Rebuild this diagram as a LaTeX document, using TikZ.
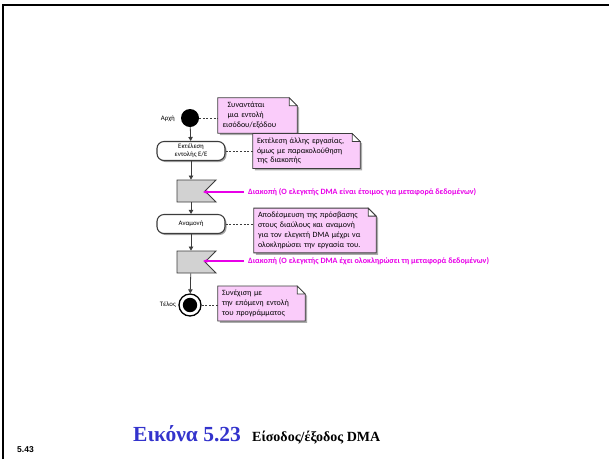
\documentclass[tikz,border=0pt]{standalone}
\usepackage{fontspec}
\setmainfont{Liberation Serif}
\newfontfamily\notefont{Carlito}
\newfontfamily\labelfont{Liberation Sans}
\usetikzlibrary{shapes.symbols,shadows,arrows.meta,backgrounds,calc}

\definecolor{notepink}{RGB}{250,204,250}
\definecolor{flaggray}{RGB}{210,210,210}
\definecolor{edgegray}{RGB}{60,60,60}
\definecolor{alertmag}{RGB}{232,0,232}
\definecolor{capblue}{RGB}{51,51,204}

\tikzset{
  notebox/.style={draw=none, fill=none, align=left, inner sep=4pt,
    font=\notefont\fontsize{8}{9.8}\selectfont},
  actbox/.style={draw=edgegray, line width=1.1pt, fill=white, rounded corners=7pt,
    minimum width=68pt, minimum height=19pt, inner sep=1pt, align=center,
    font=\notefont\fontsize{6.8}{8}\selectfont,
    drop shadow={shadow xshift=1.5pt, shadow yshift=-1.5pt, fill=gray!70, opacity=1}},
  flagbox/.style={signal, signal to=nowhere, signal from=east, draw=edgegray,
    line width=0.9pt, fill=flaggray, minimum width=39pt, minimum height=22pt, inner sep=0pt},
  startdot/.style={circle, fill=black, minimum size=18pt, inner sep=0pt},
  enddot/.style={circle, draw=black, line width=1.3pt, fill=white, minimum size=22pt,
    inner sep=0pt, path picture={\fill[black] (path picture bounding box.center) circle (7.2pt);}},
  flow/.style={draw=edgegray, line width=0.8pt, -{Triangle[length=4pt,width=4.5pt]}},
  noteline/.style={draw=edgegray, line width=0.8pt, dash pattern=on 2pt off 1.6pt},
  alertarrow/.style={draw=alertmag, line width=1.1pt, -{Stealth[length=4.5pt,width=4pt]}},
  alerttext/.style={text=alertmag, anchor=west, inner sep=0pt,
    font=\notefont\bfseries\fontsize{8.1}{9}\selectfont},
  sidelabel/.style={anchor=east, inner sep=0pt, font=\notefont\fontsize{6.8}{8}\selectfont}
}

% note outline with a folded top-right corner and a shadow, drawn behind the text
\newcommand{\foldnote}[1]{%
  \begin{pgfonlayer}{background}
    \fill[gray!65] ([shift={(2pt,-2pt)}]#1.south west) -- ([shift={(2pt,-2pt)}]#1.north west)
      -- ([shift={(-6pt,-2pt)}]#1.north east) -- ([shift={(2pt,-10pt)}]#1.north east)
      -- ([shift={(2pt,-2pt)}]#1.south east) -- cycle;
    \draw[edgegray, line width=0.8pt, fill=notepink] (#1.south west) -- (#1.north west)
      -- ([xshift=-8pt]#1.north east) -- ([yshift=-8pt]#1.north east)
      -- (#1.south east) -- cycle;
    \draw[edgegray, line width=0.8pt, fill=white] ([xshift=-8pt]#1.north east)
      -- ([xshift=-8pt,yshift=-8pt]#1.north east) -- ([yshift=-8pt]#1.north east) -- cycle;
  \end{pgfonlayer}}

\begin{document}
\begin{tikzpicture}[x=1pt,y=-1pt]
  \useasboundingbox (0,0) rectangle (609,459);

  % page frame
  \draw[line width=2.5pt] (3,459) -- (3,5) -- (609,5);

  % activity column
  \node[startdot] (start) at (190,118) {};
  \node[sidelabel] (startlbl) at (175,119) {Αρχή};
  \node[actbox] (exec) at (191,151) {Εκτέλεση\\εντολής Ε/Ε};
  \node[flagbox] (irq1) at (191,191) {};
  \node[actbox] (wait) at (191,224) {Αναμονή};
  \node[flagbox] (irq2) at (191,262) {};
  \node[enddot] (stop) at (190,305) {};
  \node[sidelabel] (stoplbl) at (176,305) {Τέλος};

  \draw[flow] (start) -- (exec);
  \draw[flow] (exec) -- (irq1);
  \draw[flow] (irq1) -- (wait);
  \draw[flow] (wait) -- (irq2);
  \draw[flow] (irq2) -- (stop);

  % notes
  \node[notebox, minimum width=79pt, minimum height=35pt, text width=70pt] (n1) at (257.5,115.5)
    {\hspace*{5pt}Συναντάται\\\hspace*{5pt}μια εντολή\\εισόδου/εξόδου};
  \foldnote{n1}
  \node[notebox, minimum width=107pt, minimum height=28pt, text width=99pt] (n2) at (306.5,151)
    {Εκτέλεση άλλης εργασίας,\\όμως με παρακολούθηση\\της διακοπής};
  \foldnote{n2}
  \node[notebox, minimum width=122pt, minimum height=41pt, text width=114pt] (n3) at (315,230.5)
    {Αποδέσμευση της πρόσβασης\\στους διαύλους και αναμονή\\για τον ελεγκτή DMA μέχρι να\\ολοκληρώσει την εργασία του.};
  \foldnote{n3}
  \node[notebox, minimum width=87pt, minimum height=33pt, text width=79pt] (n4) at (261.5,303.5)
    {Συνέχιση με\\την επόμενη εντολή\\του προγράμματος};
  \foldnote{n4}

  \draw[noteline] (start.east) -- (start.east -| n1.west);
  \draw[noteline] (exec.east) -- (exec.east -| n2.west);
  \draw[noteline] (wait.east) -- (wait.east -| n3.west);
  \draw[noteline] (stop.east) -- (stop.east -| n4.west);

  % interrupt labels
  \coordinate (notch1) at (203,191);
  \coordinate (notch2) at (203,262);
  \node[alerttext] (a1) at (248,192) {Διακοπή (Ο ελεγκτής DMA είναι έτοιμος για μεταφορά δεδομένων)};
  \node[alerttext] (a2) at (248,261) {Διακοπή (Ο ελεγκτής DMA έχει ολοκληρώσει τη μεταφορά δεδομένων)};
  \draw[alertarrow] ([xshift=-4pt]a1.west) -- (notch1 |- a1.west);
  \draw[alertarrow] ([xshift=-4pt]a2.west) -- (notch2 |- a2.west);

  % caption
  \node[anchor=base west, inner sep=0pt, text=capblue, font=\bfseries\fontsize{21.5}{24}\selectfont]
    (capnum) at (133,441) {Εικόνα 5.23};
  \node[anchor=base west, inner sep=0pt, font=\bfseries\fontsize{14}{16}\selectfont]
    (captext) at (252,441) {Είσοδος/έξοδος DMA};
  \node[anchor=base west, inner sep=0pt, font=\labelfont\bfseries\fontsize{8.5}{10}\selectfont]
    (pageno) at (17,452) {5.43};
\end{tikzpicture}
\end{document}
